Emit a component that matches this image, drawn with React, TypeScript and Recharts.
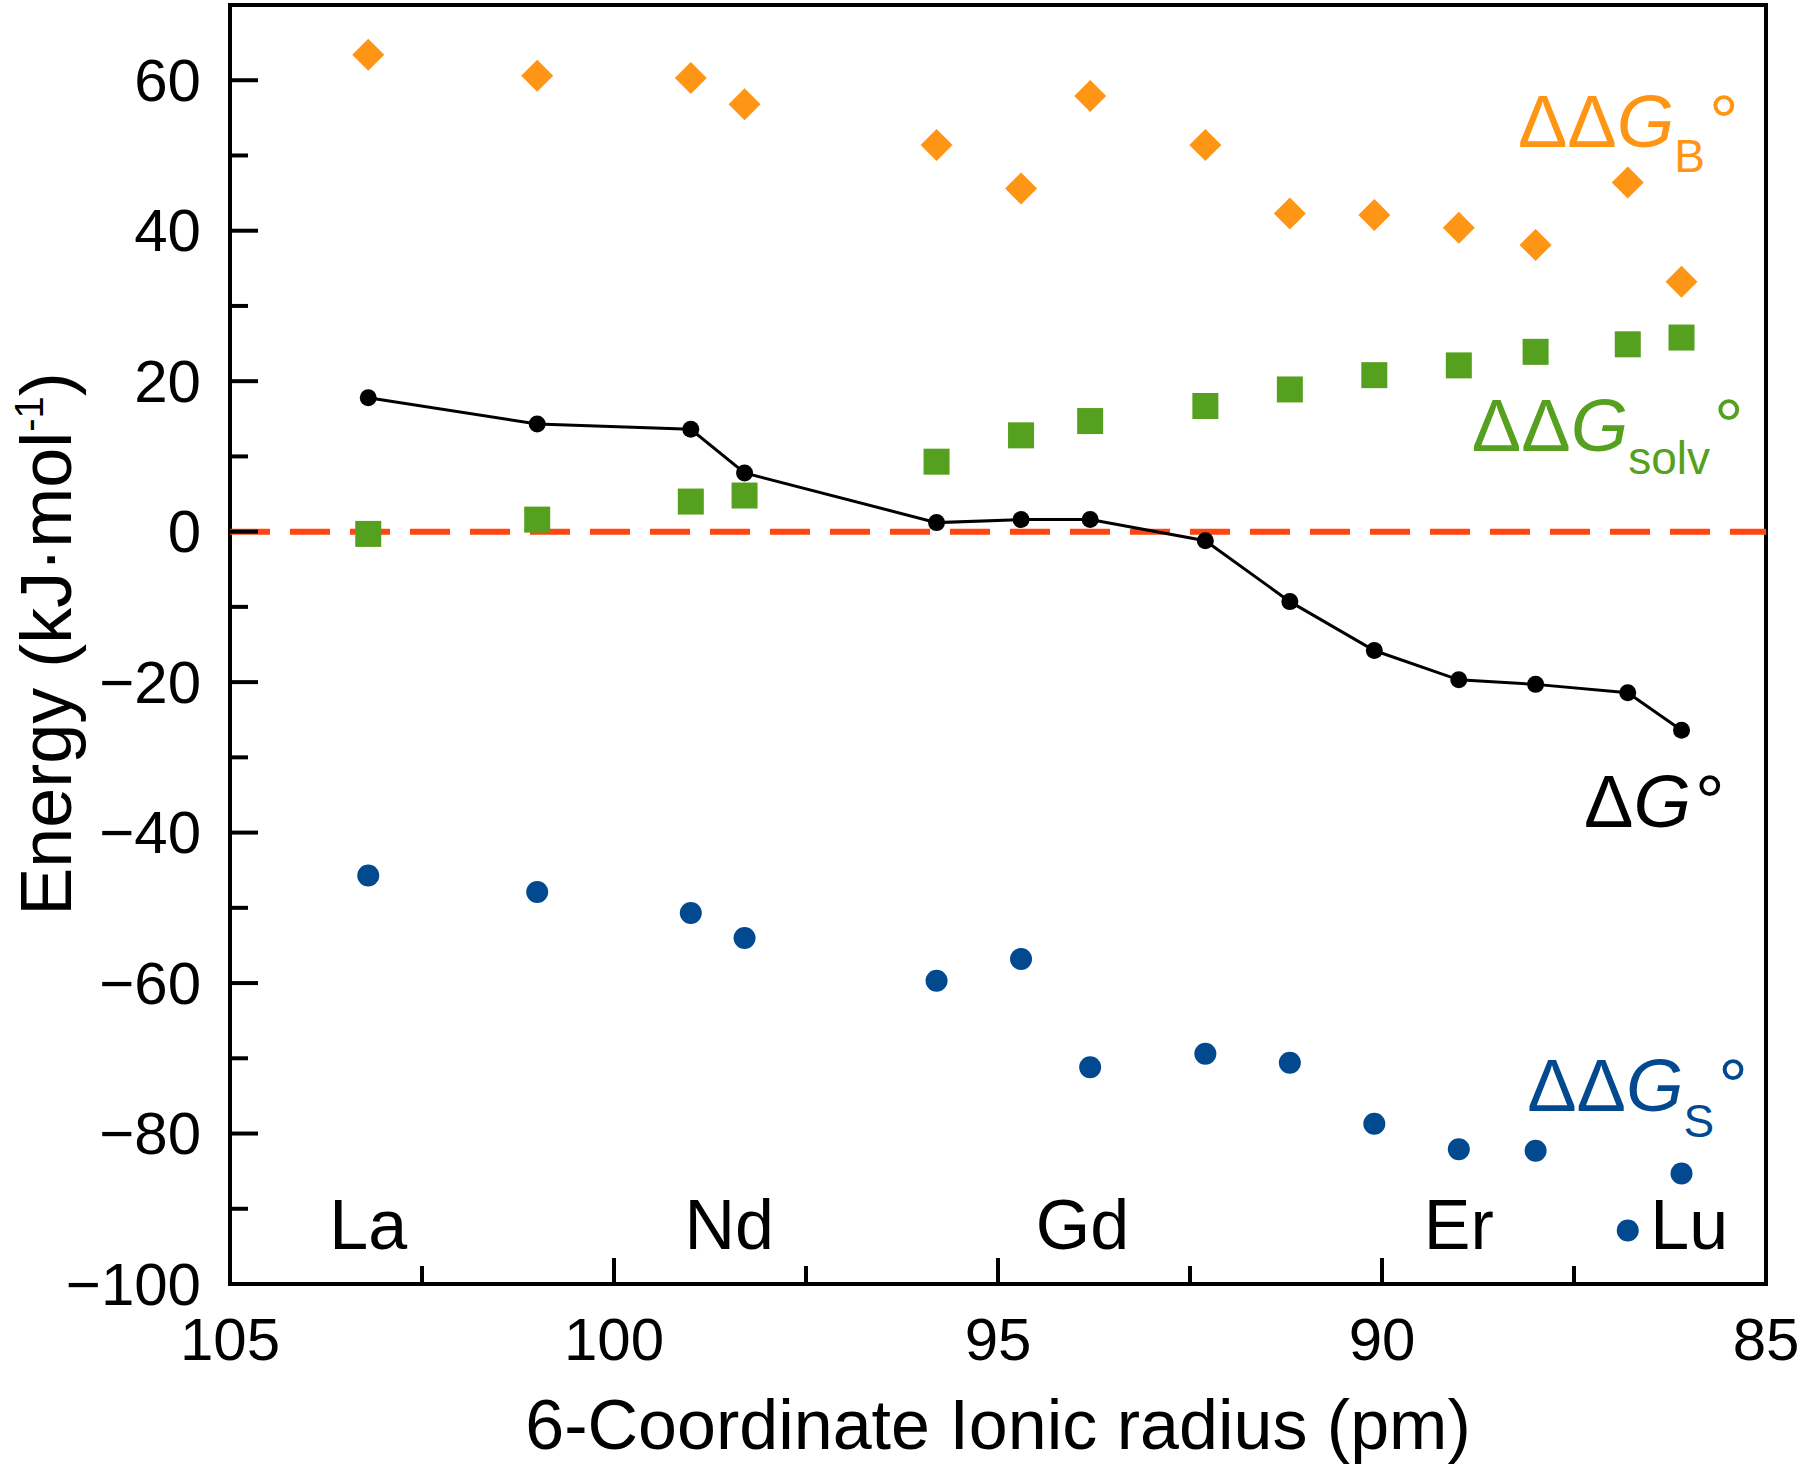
import React from 'react';
import { ScatterChart, Scatter, XAxis, YAxis, ReferenceLine, ReferenceArea, ReferenceDot } from 'recharts';

// lanthanides, 6-coordinate ionic radii (pm)
const elements = ['La', 'Ce', 'Pr', 'Nd', 'Sm', 'Eu', 'Gd', 'Tb', 'Dy', 'Ho', 'Er', 'Tm', 'Yb', 'Lu'];
const radii = [103.2, 101.0, 99.0, 98.3, 95.8, 94.7, 93.8, 92.3, 91.2, 90.1, 89.0, 88.0, 86.8, 86.1];

// energies in kJ/mol
const ddGB = [63.4, 60.6, 60.3, 56.8, 51.4, 45.6, 57.9, 51.4, 42.3, 42.1, 40.4, 38.1, 46.4, 33.2];
const ddGsolv = [-0.3, 1.6, 4.0, 4.8, 9.3, 12.8, 14.7, 16.7, 18.9, 20.8, 22.1, 23.9, 24.9, 25.8];
const ddGS = [-45.7, -47.9, -50.7, -54.0, -59.7, -56.8, -71.2, -69.4, -70.6, -78.7, -82.1, -82.3, -92.9, -85.3];
const dG = [17.8, 14.3, 13.6, 7.8, 1.2, 1.6, 1.6, -1.2, -9.3, -15.8, -19.7, -20.3, -21.4, -26.4];

// element names written along the bottom, with the radius they sit over
const labelledElements = ['La', 'Nd', 'Gd', 'Er', 'Lu'];
const labelRadii = [103.2, 98.5, 93.9, 89.0, 86.0];

const xTicks = [85, 87.5, 90, 92.5, 95, 97.5, 100, 102.5, 105];
const yTicks = [-100, -90, -80, -70, -60, -50, -40, -30, -20, -10, 0, 10, 20, 30, 40, 50, 60];

const FONT = '"Liberation Sans", Arial, Helvetica, sans-serif';
const ORANGE = '#ff9514';
const GREEN = '#55a01e';
const BLUE = '#02498f';
const RED = '#ff4512';

const toPoints = (vals: number[]) => radii.map((r, i) => ({ x: r, y: vals[i], el: elements[i] }));

const Diamond = (p: any) => (
  <path d={`M${p.cx},${p.cy - 16} L${p.cx + 16},${p.cy} L${p.cx},${p.cy + 16} L${p.cx - 16},${p.cy} Z`} fill={ORANGE} />
);
const Square = (p: any) => <rect x={p.cx - 13} y={p.cy - 13} width={26} height={26} fill={GREEN} />;
const BlueDot = (p: any) => <circle cx={p.cx} cy={p.cy} r={11} fill={BLUE} />;
const BlackDot = (p: any) => <circle cx={p.cx} cy={p.cy} r={8.5} fill="#000" />;

const YTick = (p: any) => {
  const v = p.payload.value;
  const major = v % 20 === 0;
  return (
    <g>
      <line x1={p.x} x2={p.x + (major ? 28 : 18)} y1={p.y} y2={p.y} stroke="#000" strokeWidth={4} />
      {major && (
        <text x={p.x - 29} y={p.y} textAnchor="end" dominantBaseline="central" fontFamily={FONT} fontSize={60} fill="#000">
          {v < 0 ? `\u2212${Math.abs(v)}` : v}
        </text>
      )}
    </g>
  );
};

const XTick = (p: any) => {
  const v = p.payload.value;
  const major = v % 5 === 0;
  return (
    <g>
      <line x1={p.x} x2={p.x} y1={p.y} y2={p.y - (major ? 26 : 18)} stroke="#000" strokeWidth={4} />
      {major && (
        <text x={p.x} y={p.y + 76} textAnchor="middle" fontFamily={FONT} fontSize={60} fill="#000">
          {v}
        </text>
      )}
    </g>
  );
};

const SeriesLabel = ({ cx, cy, color, main, sub, shift }: any) => (
  <text x={cx} y={cy} fill={color} fontFamily={FONT} fontSize={74}>
    <tspan>{main}</tspan>
    <tspan fontStyle="italic">G</tspan>
    {sub && <tspan fontSize={46} dy={shift}>{sub}</tspan>}
    <tspan dy={sub ? -shift : 0} dx={4}>°</tspan>
  </text>
);

const seriesLabels = [
  { x: 88.23, y: 51.1, color: ORANGE, main: '\u0394\u0394', sub: 'B', shift: 25 },
  { x: 88.83, y: 10.7, color: GREEN, main: '\u0394\u0394', sub: 'solv', shift: 23 },
  { x: 87.37, y: -39.25, color: '#000', main: '\u0394', sub: '', shift: 0 },
  { x: 88.11, y: -77.0, color: BLUE, main: '\u0394\u0394', sub: 'S', shift: 26 },
];

export default function App() {
  return (
    <div style={{ position: 'absolute', left: 0, top: 0, width: 1800, height: 1466, background: '#fff' }}>
      <ScatterChart width={1800} height={1466} margin={{ top: 5, right: 34, bottom: 0, left: 0 }}>
        <XAxis
          dataKey="x"
          type="number"
          domain={[85, 105]}
          reversed
          ticks={xTicks}
          interval={0}
          height={182}
          tickSize={0}
          tickMargin={0}
          axisLine={false}
          tickLine={false}
          tick={<XTick />}
          allowDataOverflow
        />
        <YAxis
          dataKey="y"
          type="number"
          domain={[-100, 70]}
          ticks={yTicks}
          interval={0}
          width={230}
          tickSize={0}
          tickMargin={0}
          axisLine={false}
          tickLine={false}
          tick={<YTick />}
          allowDataOverflow
        />
        <ReferenceArea x1={105} x2={85} y1={-100} y2={70} fill="none" stroke="#000" strokeWidth={4} />
        <Scatter data={toPoints(ddGB)} shape={Diamond} isAnimationActive={false} />
        <Scatter data={toPoints(ddGsolv)} shape={Square} isAnimationActive={false} />
        <ReferenceLine y={0} stroke={RED} strokeWidth={6} strokeDasharray="40 20" />
        <Scatter data={toPoints(ddGS)} shape={BlueDot} isAnimationActive={false} />
        <Scatter
          data={toPoints(dG)}
          shape={BlackDot}
          line={{ stroke: '#000', strokeWidth: 3 }}
          lineType="joint"
          isAnimationActive={false}
        />
        {labelledElements.map((el, i) => (
          <ReferenceDot
            key={el}
            x={labelRadii[i]}
            y={-95.3}
            r={1}
            shape={(p: any) => (
              <text x={p.cx} y={p.cy} textAnchor="middle" fontFamily={FONT} fontSize={70} fill="#000">
                {el}
              </text>
            )}
          />
        ))}
        {seriesLabels.map((s) => (
          <ReferenceDot
            key={s.main + s.sub}
            x={s.x}
            y={s.y}
            r={1}
            shape={(p: any) => <SeriesLabel cx={p.cx} cy={p.cy} {...s} />}
          />
        ))}
      </ScatterChart>
      <svg width={1800} height={1466} style={{ position: 'absolute', left: 0, top: 0, pointerEvents: 'none' }}>
        <text x={998} y={1449} textAnchor="middle" fontFamily={FONT} fontSize={70} fill="#000">
          6-Coordinate Ionic radius (pm)
        </text>
        <text
          x={46}
          y={644}
          transform="rotate(-90, 46, 644)"
          textAnchor="middle"
          dominantBaseline="central"
          fontFamily={FONT}
          fontSize={72}
          fill="#000"
        >
          Energy (kJ·mol<tspan fontSize={40} dy={-17}>-1</tspan>
          <tspan dy={17}>)</tspan>
        </text>
      </svg>
    </div>
  );
}
